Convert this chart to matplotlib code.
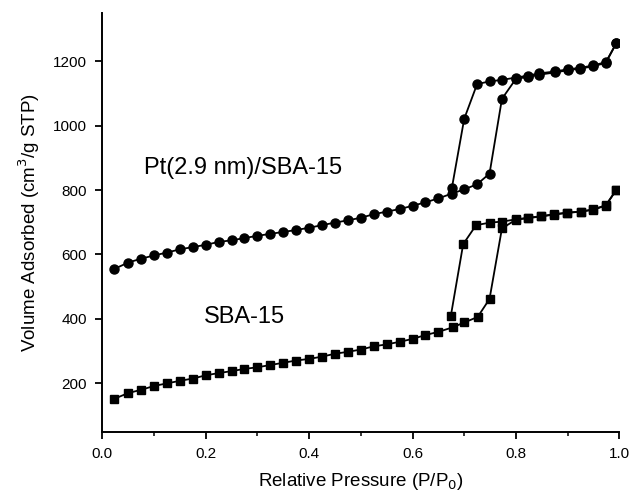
import matplotlib
matplotlib.use("Agg")
import matplotlib.pyplot as plt
from matplotlib.ticker import MultipleLocator

plt.rcParams['font.family'] = ['Liberation Sans', 'DejaVu Sans']

# relative pressure grid of the low-pressure part (shared by both samples)
p_low = [0.023, 0.05, 0.075, 0.1, 0.125, 0.15, 0.175, 0.2, 0.225, 0.25, 0.275,
         0.3, 0.325, 0.35, 0.375, 0.4, 0.425, 0.45, 0.475, 0.5, 0.525, 0.55,
         0.575, 0.6, 0.625, 0.65]

# Pt(2.9 nm)/SBA-15
pt_ads_low = [555, 575, 587, 597, 606, 616, 623, 630, 639, 644, 651, 658, 664,
              670, 676, 683, 691, 699, 706, 714, 725, 733, 741, 751, 762, 774]
pt_ads_p_high = [0.676, 0.700, 0.725, 0.749, 0.773, 0.800, 0.823, 0.845, 0.876,
                 0.901, 0.924, 0.950, 0.974, 0.994]
pt_ads_high = [789, 802, 818, 851, 1083, 1145, 1151, 1158, 1165, 1172, 1177,
               1184, 1195, 1255]
pt_des_p = [0.994, 0.974, 0.950, 0.924, 0.901, 0.876, 0.845, 0.823, 0.800,
            0.773, 0.749, 0.725, 0.700, 0.676]
pt_des = [1255, 1197, 1187, 1179, 1175, 1168, 1162, 1155, 1149, 1142, 1137,
          1129, 1021, 805]

# SBA-15
sba_ads_low = [152, 170, 180, 192, 200, 208, 215, 225, 232, 238, 245, 250, 257,
               264, 271, 276, 283, 292, 298, 305, 315, 321, 329, 338, 350, 360]
sba_ads_p_high = [0.678, 0.700, 0.726, 0.749, 0.773, 0.800, 0.824, 0.849,
                  0.874, 0.899, 0.925, 0.950, 0.974, 0.994]
sba_ads_high = [374, 389, 406, 462, 681, 708, 713, 718, 724, 729, 733, 739,
                752, 800]
sba_des_p = [0.994, 0.974, 0.950, 0.925, 0.899, 0.874, 0.849, 0.824, 0.800,
             0.773, 0.750, 0.723, 0.698, 0.674]
sba_des = [800, 753, 740, 733, 730, 725, 719, 714, 709, 702, 699, 691, 632, 408]

fig = plt.figure(figsize=(6.34, 4.93), dpi=100)
ax = fig.add_axes([0.1614, 0.1243, 0.8154, 0.8497])

style = dict(color='black', lw=1.3, ms=6.5)
ax.plot(p_low + pt_ads_p_high, pt_ads_low + pt_ads_high, marker='o', **style)
ax.plot(pt_des_p, pt_des, marker='o', **style)
ax.plot(p_low + sba_ads_p_high, sba_ads_low + sba_ads_high, marker='s',
        **dict(style, ms=5.5))
ax.plot(sba_des_p, sba_des, marker='s', **dict(style, ms=5.5))

ax.text(0.081, 868, 'Pt(2.9 nm)/SBA-15', fontsize=17, va='center')
ax.text(0.197, 405, 'SBA-15', fontsize=17, va='center')

ax.set_xlim(0, 1.0)
ax.set_ylim(50, 1350)
ax.xaxis.set_major_locator(MultipleLocator(0.2))
ax.xaxis.set_minor_locator(MultipleLocator(0.1))
ax.set_yticks([200, 400, 600, 800, 1000, 1200])
ax.xaxis.set_major_formatter(plt.FormatStrFormatter('%.1f'))

for s in ['top', 'right']:
    ax.spines[s].set_visible(False)
for s in ['left', 'bottom']:
    ax.spines[s].set_linewidth(1.4)
ax.tick_params(direction='out', length=5, width=1.3, labelsize=11, pad=6)
ax.tick_params(which='minor', direction='out', length=3, width=1.1)

ax.set_xlabel('Relative Pressure (P/P$_0$)', fontsize=13.5, labelpad=7)
ax.set_ylabel('Volume Adsorbed (cm$^3$/g STP)', fontsize=13.5, labelpad=8)

fig.savefig('out.png', dpi=100)
